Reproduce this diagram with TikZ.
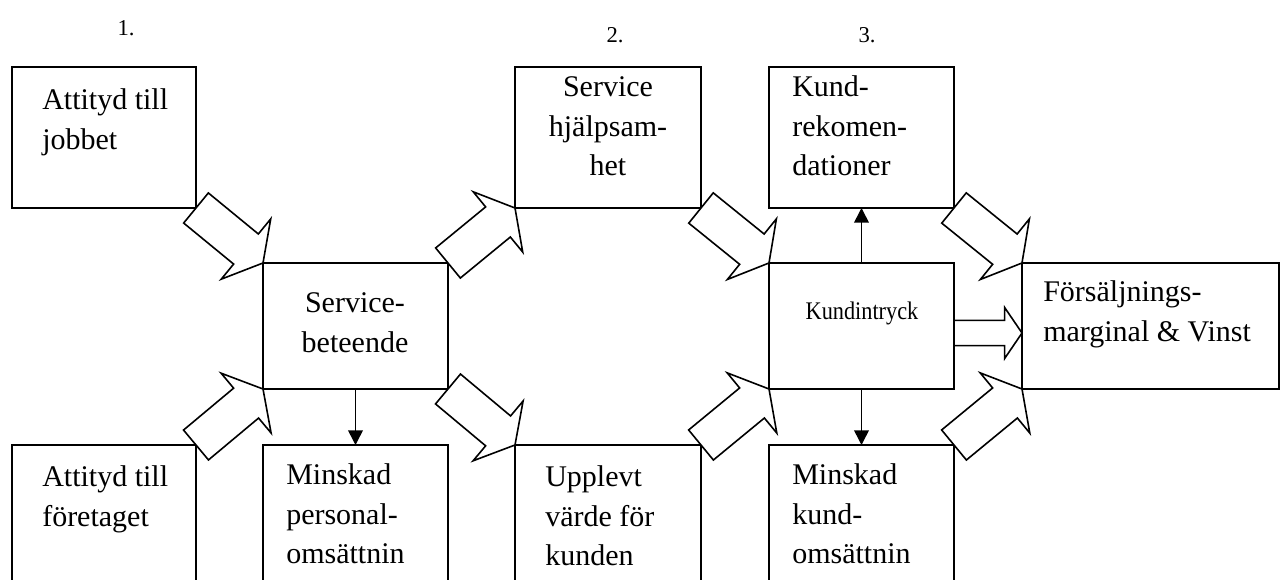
\documentclass[tikz,border=0pt]{standalone}
\usepackage{fontspec}
\setmainfont{Liberation Serif}
\usetikzlibrary{arrows.meta,calc}

% fonts for box texts, the step numbers and the small centre label
\newcommand\boxfont{\fontsize{22.5pt}{29.5pt}\selectfont}
\newcommand\numfont{\fontsize{17pt}{20pt}\selectfont}
\newcommand\midfont{\fontsize{19pt}{22pt}\selectfont}

% multi-line labels whose reference point is the baseline of the first line
\newcommand\leftlines[1]{\begin{tabular}[t]{@{}l@{}}#1\end{tabular}}
\newcommand\centerlines[1]{\begin{tabular}[t]{@{}c@{}}#1\end{tabular}}

% outlined block arrow between two points:
% #1 start, #2 tip, #3 head length, #4 head half width, #5 shaft half width
\newcommand\blockarrow[5]{%
  \draw[blockline] let \p1=(#1), \p2=(#2),
      \n1={atan2(\y2-\y1,\x2-\x1)}, \n2={veclen(\x2-\x1,\y2-\y1)} in
    ($(\p1)+({\n1+90}:#5)$)
    -- ($(\p1)+(\n1:{\n2-#3})+({\n1+90}:#5)$)
    -- ($(\p1)+(\n1:{\n2-#3})+({\n1+90}:#4)$)
    -- (\p2)
    -- ($(\p1)+(\n1:{\n2-#3})+({\n1-90}:#4)$)
    -- ($(\p1)+(\n1:{\n2-#3})+({\n1-90}:#5)$)
    -- ($(\p1)+({\n1-90}:#5)$)
    -- cycle;}

\tikzset{
  box/.style={draw, line width=1.2pt, inner sep=0pt, outer sep=0pt},
  blockline/.style={draw, fill=white, line width=1.2pt, line join=miter},
  lbl/.style={inner sep=0pt, font=\boxfont},
  num/.style={inner sep=0pt, font=\numfont, anchor=base},
  thin/.style={line width=1.2pt, -{Triangle[length=11pt, width=11pt]}}
}

\begin{document}
\begin{tikzpicture}[x=0.75pt, y=-0.75pt]
  \useasboundingbox (0,0) rectangle (1283,580);
  \fill[white] (0,0) rectangle (1283,580);
  \clip (0,0) rectangle (1283,580);

  % boxes (centre, width, height in pixels)
  \node[box, minimum width=184*0.75pt, minimum height=141*0.75pt] (job)  at (104,137.5) {};
  \node[box, minimum width=184*0.75pt, minimum height=160*0.75pt] (ftg)  at (104,525) {};
  \node[box, minimum width=185*0.75pt, minimum height=126*0.75pt] (svc)  at (355.5,326) {};
  \node[box, minimum width=185*0.75pt, minimum height=160*0.75pt] (pers) at (355.5,525) {};
  \node[box, minimum width=186*0.75pt, minimum height=141*0.75pt] (help) at (608,137.5) {};
  \node[box, minimum width=186*0.75pt, minimum height=160*0.75pt] (vard) at (608,525) {};
  \node[box, minimum width=185*0.75pt, minimum height=141*0.75pt] (rek)  at (861.5,137.5) {};
  \node[box, minimum width=185*0.75pt, minimum height=126*0.75pt] (kin)  at (861.5,326) {};
  \node[box, minimum width=185*0.75pt, minimum height=160*0.75pt] (kund) at (861.5,525) {};
  \node[box, minimum width=257*0.75pt, minimum height=126*0.75pt] (vinst) at (1150.5,326) {};

  % step numbers
  \node[num] (n1) at (126,36) {1.};
  \node[num] (n2) at (615,43) {2.};
  \node[num] (n3) at (867,43) {3.};

  % box texts
  \node[lbl, anchor=base west] (tjob)  at (42,110)  {\leftlines{Attityd till\\jobbet}};
  \node[lbl, anchor=base west] (tftg)  at (42,487)  {\leftlines{Attityd till\\företaget}};
  \node[lbl, anchor=base]      (tsvc)  at (355,313) {\centerlines{Service-\\beteende}};
  \node[lbl, anchor=base west] (tpers) at (286,485) {\leftlines{Minskad\\personal-\\omsättnin}};
  \node[lbl, anchor=base]      (thelp) at (608,97)  {\centerlines{Service\\hjälpsam-\\het}};
  \node[lbl, anchor=base west] (tvard) at (545,487) {\leftlines{Upplevt\\värde för\\kunden}};
  \node[lbl, anchor=base west] (trek)  at (792,97)  {\leftlines{Kund-\\rekomen-\\dationer}};
  \node[inner sep=0pt, font=\midfont, xscale=0.88, transform shape, anchor=base] (tkin) at (862,320) {Kundintryck};
  \node[lbl, anchor=base west] (tkund) at (792,485) {\leftlines{Minskad\\kund-\\omsättnin}};
  \node[lbl, anchor=base west] (tvin)  at (1043,302) {\leftlines{Försäljnings-\\marginal \& Vinst}};

  % block arrows between box corners
  \blockarrow{job.south east}{svc.north west}{16.5pt}{29.25pt}{14.6pt}
  \blockarrow{ftg.north east}{svc.south west}{16.5pt}{29.25pt}{14.6pt}
  \blockarrow{svc.north east}{help.south west}{16.5pt}{29.25pt}{14.6pt}
  \blockarrow{svc.south east}{vard.north west}{16.5pt}{29.25pt}{14.6pt}
  \blockarrow{help.south east}{kin.north west}{16.5pt}{29.25pt}{14.6pt}
  \blockarrow{vard.north east}{kin.south west}{16.5pt}{29.25pt}{14.6pt}
  \blockarrow{rek.south east}{vinst.north west}{16.5pt}{29.25pt}{14.6pt}
  \blockarrow{kund.north east}{vinst.south west}{16.5pt}{29.25pt}{14.6pt}

  % straight block arrow from the centre box to the result box
  \coordinate (hs) at ($(kin.east)+(0,7)$);
  \coordinate (ht) at ($(vinst.west)+(0,7)$);
  \blockarrow{hs}{ht}{13pt}{19.1pt}{9.5pt}

  % thin arrows
  \draw[thin] (svc.south) -- (pers.north);
  \draw[thin] (kin.north) -- (rek.south);
  \draw[thin] (kin.south) -- (kund.north);
\end{tikzpicture}
\end{document}
